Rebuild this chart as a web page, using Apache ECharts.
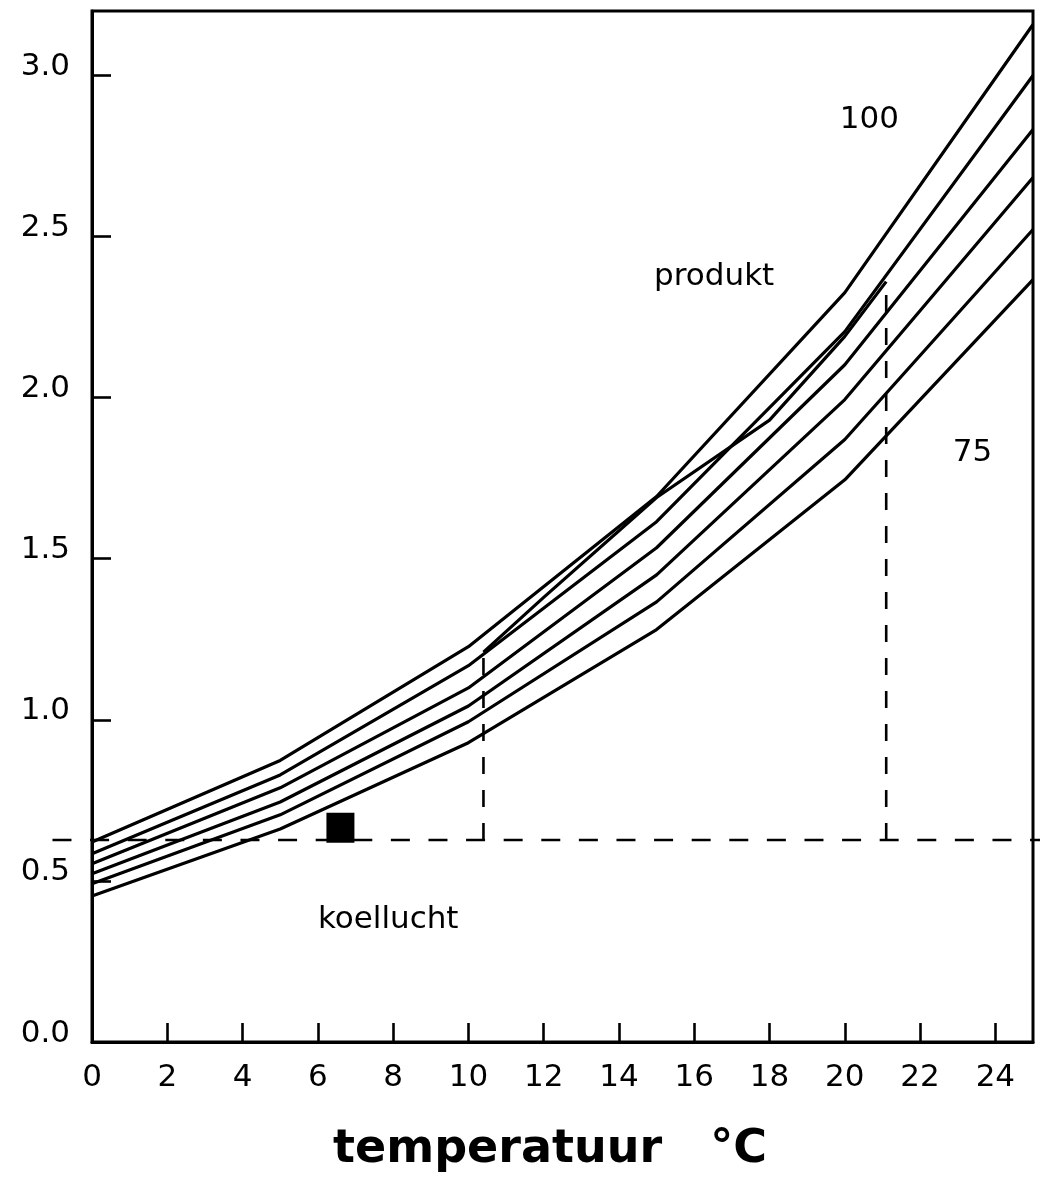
<!DOCTYPE html>
<html><head><meta charset="utf-8">
<script src="https://cdn.jsdelivr.net/npm/echarts@6/dist/echarts.min.js"></script>
<style>html,body{margin:0;padding:0;background:#fff}#c{width:1040px;height:1185px}</style>
</head><body><div id="c"></div>
<script>
// temperature (°C) at the breakpoints of the curves
const temps = [0, 5, 10, 15, 20, 25];
// curves for relative humidity 100 .. 75 %
const rh100 = [0.621, 0.874, 1.227, 1.693, 2.326, 3.158];
const rh95  = [0.584, 0.829, 1.168, 1.615, 2.205, 3.000];
const rh90  = [0.553, 0.789, 1.099, 1.534, 2.102, 2.832];
const rh85  = [0.522, 0.745, 1.043, 1.450, 1.994, 2.683];
const rh80  = [0.491, 0.705, 0.994, 1.366, 1.870, 2.522];
const rh75  = [0.453, 0.661, 0.929, 1.280, 1.745, 2.366];
// product line
const produktT = [10.4, 12, 15, 18, 20, 21.1];
const produktV = [1.21, 1.38, 1.69, 1.93, 2.19, 2.36];
// cooling air level and drop lines
const coolAirLevel = 0.627;
const coolAirRange = [-1.05, 25.2];
const dropT = [10.4, 21.1];
const dropTop = [1.23, 2.36];
const markerPoint = [6.6, 0.665];
// annotations [temp, value, text]
const notes = [[20.65, 2.863, '100'], [23.39, 1.829, '75'], [16.53, 2.376, 'produkt'], [7.87, 0.379, 'koellucht']];
const xTitle = 'temperatuur   \u00B0C';

const FONT = '"DejaVu Sans", "Liberation Sans", sans-serif';
const pairs = (xs, ys) => xs.map((x, i) => [x, ys[i]]);

const curves = [rh100, rh95, rh90, rh85, rh80, rh75].map(v => ({
  type: 'line', data: pairs(temps, v), symbol: 'none', silent: true,
  lineStyle: { color: '#000', width: 3.2 }
}));

const series = curves.concat([
  { type: 'line', data: pairs(produktT, produktV), symbol: 'none', silent: true,
    lineStyle: { color: '#000', width: 3.2 } },
  // cooling-air level, drawn beyond the frame on both sides
  { type: 'custom', clip: false, silent: true, z: 5,
    data: [[coolAirRange[0], coolAirRange[1], coolAirLevel]],
    renderItem: (params, api) => {
      const p0 = api.coord([api.value(0), api.value(2)]);
      const p1 = api.coord([api.value(1), api.value(2)]);
      return { type: 'line', shape: { x1: p0[0], y1: p0[1], x2: p1[0], y2: p1[1] },
        style: { stroke: '#000', lineWidth: 2.6, lineDash: [19, 18.6] } };
    } },
  ...dropT.map((t, i) => ({
    type: 'line', data: [[t, coolAirLevel], [t, dropTop[i]]], symbol: 'none', silent: true,
    lineStyle: { color: '#000', width: 2.6, type: [17, 16] }
  })),
  { type: 'scatter', data: [markerPoint], symbol: 'rect', symbolSize: [28, 30],
    itemStyle: { color: '#000', opacity: 1 }, silent: true },
  { type: 'scatter', data: notes.map(n => ({ value: [n[0], n[1]], name: n[2] })),
    symbolSize: 0, silent: true, itemStyle: { opacity: 1 },
    label: { show: true, position: 'inside', formatter: p => p.name,
      color: '#000', fontSize: 31, fontFamily: FONT } }
]);

const chart = echarts.init(document.getElementById('c'), null, { renderer: 'canvas' });
chart.setOption({
  animation: false,
  backgroundColor: '#fff',
  grid: { left: 92, right: 7, top: 11, bottom: 143, show: true, borderColor: '#000', borderWidth: 3 },
  xAxis: {
    type: 'value', min: 0, max: 25, interval: 2,
    axisLine: { lineStyle: { color: '#000', width: 3 } },
    axisTick: { inside: true, length: 19, lineStyle: { color: '#000', width: 2.6 } },
    axisLabel: { color: '#000', fontSize: 31, fontFamily: FONT, margin: 20, showMaxLabel: false },
    splitLine: { show: false }
  },
  yAxis: {
    type: 'value', min: 0, max: 3.2, interval: 0.5,
    axisLine: { show: true, lineStyle: { color: '#000', width: 3 } },
    axisTick: { show: true, inside: true, length: 19, lineStyle: { color: '#000', width: 2.6 } },
    axisLabel: { color: '#000', fontSize: 31, fontFamily: FONT, margin: 22, showMaxLabel: false,
      formatter: v => v.toFixed(1), verticalAlign: 'bottom', lineHeight: 17 },
    splitLine: { show: false }
  },
  graphic: [{
    type: 'text', x: 550, y: 1150,
    style: { text: xTitle, fill: '#000', font: 'bold 46px ' + FONT, align: 'center', verticalAlign: 'middle' }
  }],
  series: series
});
</script>
</body></html>
